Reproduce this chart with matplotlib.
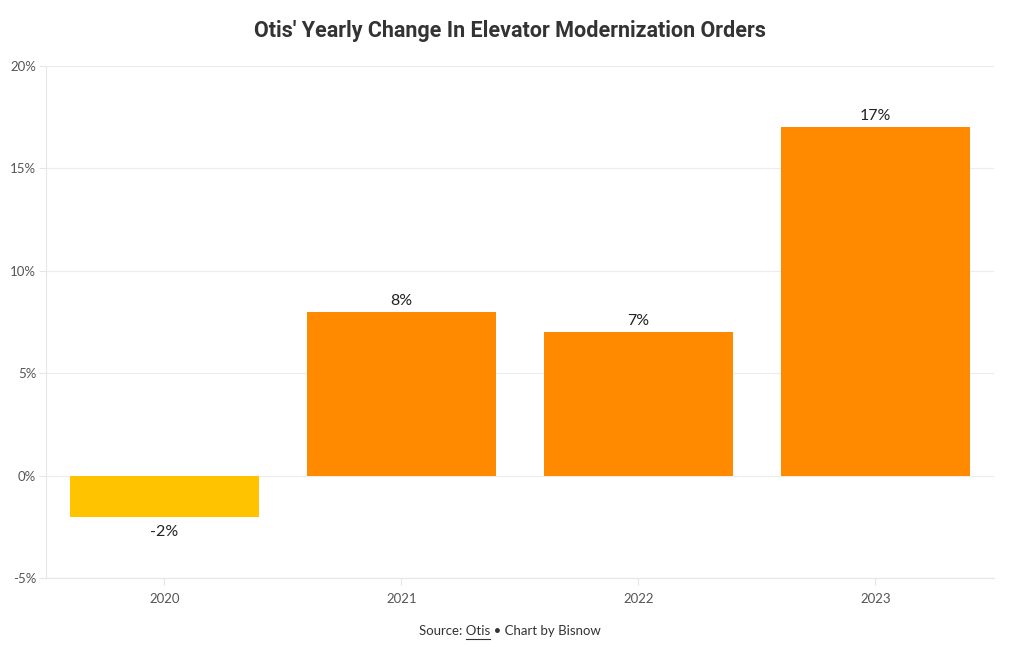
import matplotlib
matplotlib.use('Agg')
import matplotlib.pyplot as plt
from matplotlib.lines import Line2D

years = ['2020', '2021', '2022', '2023']
changes = [-2, 8, 7, 17]
bar_colors = ['#FFC300', '#FF8A00', '#FF8A00', '#FF8A00']
yticks = [-5, 0, 5, 10, 15, 20]

plt.rcParams['font.family'] = ['Lato', 'DejaVu Sans']

fig = plt.figure(figsize=(10.2, 6.5), dpi=100)
ax = fig.add_axes([46 / 1020, 1 - 578 / 650, 948 / 1020, 512 / 650])

x = list(range(len(years)))
bars = ax.bar(x, changes, width=0.8, color=bar_colors, zorder=3)

for xi, v in zip(x, changes):
    if v >= 0:
        ax.annotate(f'{v}%', (xi, v), xytext=(0, 3), textcoords='offset points',
                    ha='center', va='bottom', fontsize=11.5, color='#222222')
    else:
        ax.annotate(f'{v}%', (xi, v), xytext=(0, -6), textcoords='offset points',
                    ha='center', va='top', fontsize=11.5, color='#222222')

ax.set_xlim(-0.5, 3.5)
ax.set_ylim(-5, 20)
ax.set_xticks(x)
ax.set_xticklabels(years)
ax.set_yticks(yticks)
ax.set_yticklabels([f'{t}%' for t in yticks])
ax.tick_params(axis='both', colors='#e6e6e6', labelcolor='#555555', labelsize=9.5, length=5, width=0.8)
ax.tick_params(axis='x', pad=6)
ax.tick_params(axis='y', pad=2)
ax.grid(axis='y', color='#ececec', linewidth=0.8, zorder=0)
for side in ['top', 'right']:
    ax.spines[side].set_visible(False)
for side in ['left', 'bottom']:
    ax.spines[side].set_color('#e6e6e6')
    ax.spines[side].set_linewidth(0.8)

fig.text(0.5, 1 - 31 / 650, "Otis' Yearly Change In Elevator Modernization Orders",
         ha='center', va='center', fontsize=15.5, fontweight='bold', color='#333333',
         family=['Roboto', 'DejaVu Sans'])

# source line with underlined "Otis"
fig.canvas.draw()
r = fig.canvas.get_renderer()
src_y = 1 - 631 / 650
parts = ['Source: ', 'Otis', ' \u2022 Chart by Bisnow']
widths = []
for p in parts:
    t = fig.text(0, 0, p.replace(' ', '\u00a0'), fontsize=9.5, alpha=0)
    widths.append(t.get_window_extent(r).width)
    t.remove()
total = sum(widths)
x0 = 510 - total / 2
fig.text(x0 / 1020, src_y, ''.join(parts).replace(' ', '\u00a0'), ha='left', va='center',
         fontsize=9.5, color='#333333')
ux0 = (x0 + widths[0]) / 1020
ux1 = (x0 + widths[0] + widths[1]) / 1020
uy = src_y - 8 / 650
fig.add_artist(Line2D([ux0, ux1], [uy, uy], color='#333333', linewidth=0.8))

fig.savefig('out.png', dpi=100, facecolor='white')
